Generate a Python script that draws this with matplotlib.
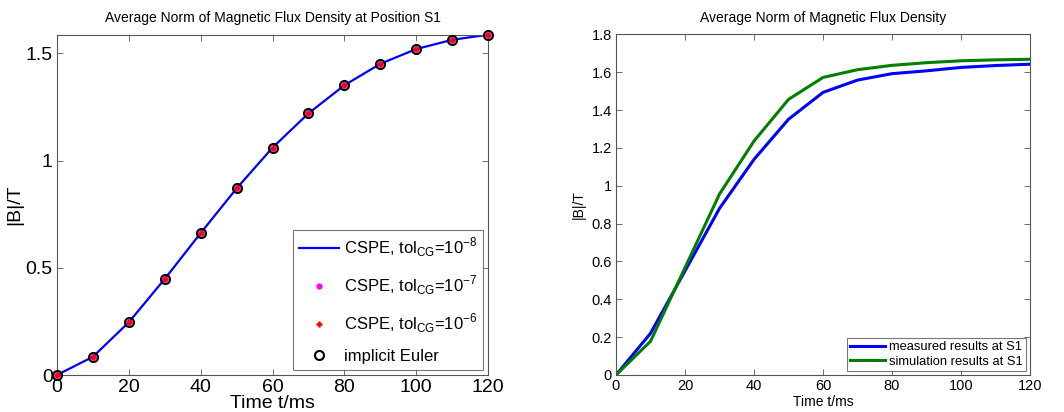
import matplotlib.pyplot as plt
import numpy as np
from matplotlib.ticker import FuncFormatter

plt.rcParams['font.family'] = ['Liberation Sans', 'DejaVu Sans']
plt.rcParams['mathtext.fontset'] = 'custom'
plt.rcParams['mathtext.rm'] = 'Liberation Sans'

# left panel: CSPE / implicit Euler at S1
t_left = [0, 10, 20, 30, 40, 50, 60, 70, 80, 90, 100, 110, 120]
b_cspe8 = [0.0, 0.085, 0.246, 0.448, 0.662, 0.870, 1.060, 1.220, 1.351, 1.451, 1.520, 1.563, 1.587]
b_cspe7 = b_cspe8
b_cspe6 = b_cspe8
b_euler = b_cspe8

# right panel: measurement vs simulation
t_right = [0, 10, 20, 30, 40, 50, 60, 70, 80, 90, 100, 110, 120]
b_measured = [0.0, 0.22, 0.55, 0.88, 1.139, 1.351, 1.493, 1.558, 1.592, 1.607, 1.625, 1.635, 1.642]
b_simulated = [0.0, 0.178, 0.567, 0.956, 1.236, 1.456, 1.572, 1.613, 1.636, 1.650, 1.660, 1.665, 1.668]

W, H = 1064, 412
fig = plt.figure(figsize=(W / 100, H / 100), dpi=100)

def box(l, r, t, b):
    return [l / W, 1 - b / H, (r - l) / W, (b - t) / H]

def style(ax, fs):
    for s in ax.spines.values():
        s.set_color('#555555')
        s.set_linewidth(0.8)
    ax.tick_params(direction='in', top=True, right=True, length=4, width=0.6,
                   colors='#555555', labelcolor='black', labelsize=fs, pad=3)
    ax.yaxis.set_major_formatter(FuncFormatter(lambda v, p: '%g' % round(v, 2)))

ax1 = fig.add_axes(box(57, 488, 34.7, 375))
ax1.plot(t_left, b_cspe8, color='#0000ff', lw=1.6, label=r'CSPE, tol$_{\mathrm{CG}}$=10$^{-8}$', zorder=2)
ax1.plot(t_left, b_cspe7, 'o', color='magenta', ms=3.5, ls='none', clip_on=False,
         label=r'CSPE, tol$_{\mathrm{CG}}$=10$^{-7}$', zorder=3)
ax1.plot(t_left, b_cspe6, '+', color='red', ms=5, mew=1.8, ls='none', clip_on=False,
         label=r'CSPE, tol$_{\mathrm{CG}}$=10$^{-6}$', zorder=4)
ax1.plot(t_left, b_euler, 'o', mfc='none', mec='black', ms=6.5, mew=1.5, ls='none', clip_on=False,
         label='implicit Euler', zorder=5)
ax1.set_xlim(0, 120)
ax1.set_ylim(0, 1.587)
ax1.set_xticks(np.arange(0, 121, 20))
ax1.set_yticks([0, 0.5, 1, 1.5])
style(ax1, 14)
ax1.set_title('Average Norm of Magnetic Flux Density at Position S1', fontsize=10, pad=9)
ax1.set_xlabel('Time t/ms', fontsize=14, labelpad=-1)
ax1.set_ylabel('|B|/T', fontsize=14, labelpad=2)
leg1 = ax1.legend(loc='lower right', fontsize=12, frameon=True, fancybox=False,
                  edgecolor='#555555', borderaxespad=0.3, handlelength=2.4,
                  handletextpad=0.3, borderpad=0.35, labelspacing=0.85)
leg1.get_frame().set_linewidth(0.8)

ax2 = fig.add_axes(box(616, 1030, 34.3, 375))
ax2.plot(t_right, b_measured, color='#0000ff', lw=2.2, label='measured results at S1')
ax2.plot(t_right, b_simulated, color='#007f00', lw=2.2, label='simulation results at S1')
ax2.set_xlim(0, 120)
ax2.set_ylim(0, 1.8)
ax2.set_xticks(np.arange(0, 121, 20))
ax2.set_yticks(np.arange(0, 1.81, 0.2))
style(ax2, 10.5)
ax2.set_title('Average Norm of Magnetic Flux Density', fontsize=10, pad=9)
ax2.set_xlabel('Time t/ms', fontsize=10, labelpad=1)
ax2.set_ylabel('|B|/T', fontsize=10, labelpad=4)
leg2 = ax2.legend(loc='lower right', fontsize=9.3, frameon=True, fancybox=False,
                  edgecolor='#555555', borderaxespad=0.3, handlelength=2.7,
                  handletextpad=0.3, borderpad=0.25, labelspacing=0.2)
leg2.get_frame().set_linewidth(0.8)

fig.savefig('out.png', dpi=100)
